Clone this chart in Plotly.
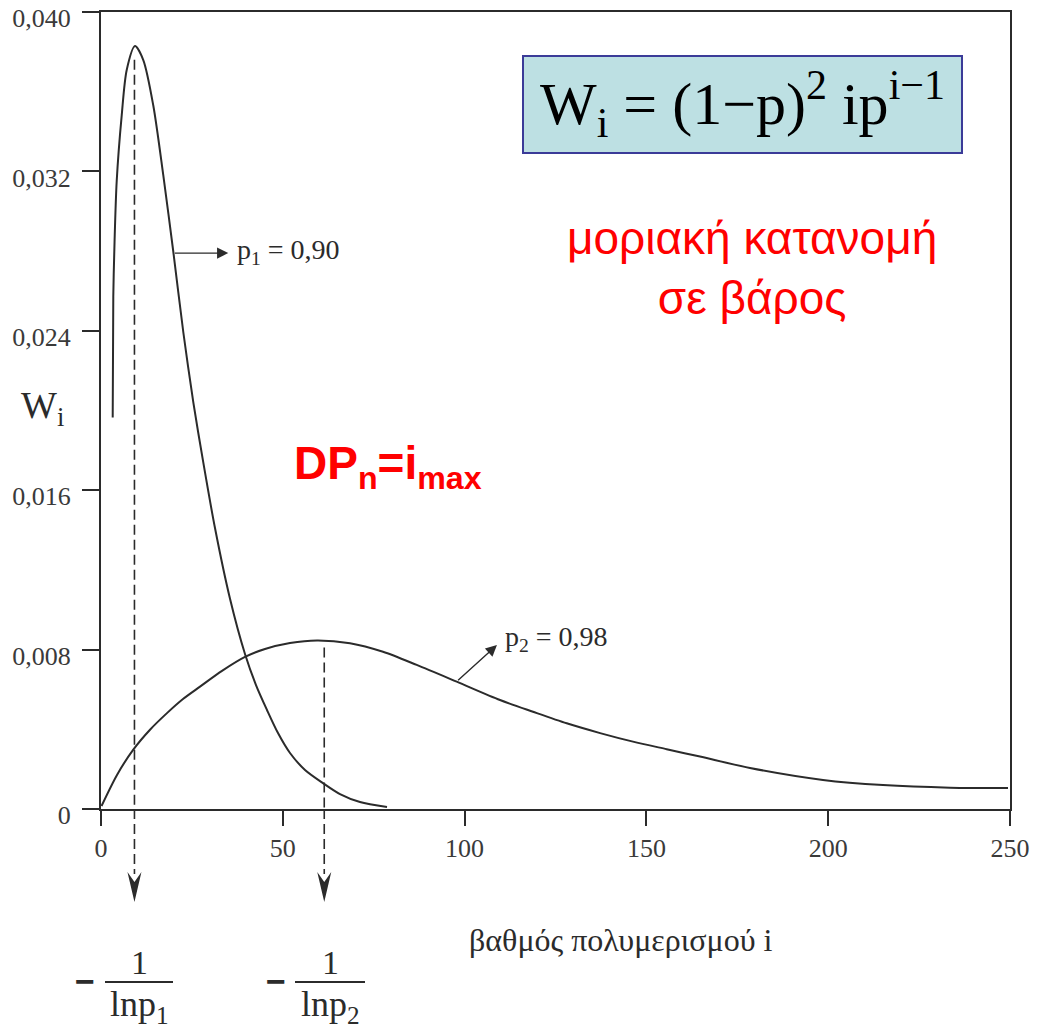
import plotly.graph_objects as go

# Weight-fraction distribution W_i against degree of polymerisation i
i_p1 = [3.22, 3.38, 3.74, 4.32, 5.69, 7.07, 9.35, 11.63, 14.38, 17.13, 19.88,
        22.63, 25.39, 28.14, 31.35, 35.48, 39.60, 42.63, 45.65, 48.68, 51.98,
        56.11, 61.06, 65.73, 71.23, 78.66]
w_p1 = [0.01965, 0.02571, 0.02856, 0.03152, 0.03480, 0.03709, 0.03829, 0.03759,
        0.03531, 0.03181, 0.02798, 0.02394, 0.02041, 0.01738, 0.01410, 0.01055,
        0.00778, 0.00622, 0.00497, 0.00381, 0.00281, 0.00196, 0.00130, 0.00075,
        0.00035, 0.00010]

i_p2 = [0.14, 4.40, 8.88, 13.48, 18.07, 22.55, 27.23, 33.28, 39.60, 45.10, 51.98,
        59.41, 68.48, 77.56, 86.83, 97.83, 109.74, 118.81, 128.08, 137.27, 146.31,
        155.58, 164.74, 178.49, 198.57, 215.07, 233.5, 249.45]
w_p2 = [0.00015, 0.00171, 0.00298, 0.00398, 0.00480, 0.00552, 0.00614, 0.00693,
        0.00763, 0.00803, 0.00833, 0.00846, 0.00832, 0.00789, 0.00723, 0.00639,
        0.00547, 0.00488, 0.00430, 0.00381, 0.00338, 0.00300, 0.00263, 0.00206,
        0.00146, 0.00120, 0.00107, 0.00105]

# positions of the maxima (i = -1/ln p) and where the dashed markers start
i_max = [9.2, 61.4]
w_dash_top = [0.0376, 0.0081]

x_ticks = [0, 50, 100, 150, 200, 250]
y_ticks = [0, 0.008, 0.016, 0.024, 0.032, 0.040]
y_ticktext = ["0", "0,008", "0,016", "0,024", "0,032", "0,040"]

X_RANGE = [0, 250]
Y_RANGE = [0, 0.040]

W, H = 1047, 1029
L, R, T, B = 101, 37, 12, 220
PW, PH = W - L - R, H - T - B

INK = "#2b2b2b"
SERIF = "Liberation Serif"
SANS = "Liberation Sans"


def px(xpix):
    """page pixel column -> paper x"""
    return (xpix - L) / PW


def py(ypix):
    """page pixel row -> paper y"""
    return (H - B - ypix) / PH


def note(text, xpix, ypix, size, family=SERIF, color=INK, xanchor="center"):
    return dict(text=text, x=px(xpix), y=py(ypix), xref="paper", yref="paper",
                xanchor=xanchor, yanchor="middle", showarrow=False,
                font=dict(family=family, size=size, color=color))


fig = go.Figure()
for xs, ys in [(i_p1, w_p1), (i_p2, w_p2)]:
    fig.add_trace(go.Scatter(
        x=xs, y=ys, mode="lines",
        line=dict(color=INK, width=2, shape="spline", smoothing=0.8),
        hoverinfo="skip", showlegend=False,
    ))

shapes = []
for xv, top in zip(i_max, w_dash_top):
    shapes.append(dict(type="line", xref="x", yref="y", x0=xv, x1=xv, y0=top, y1=0,
                       line=dict(color=INK, width=1.6, dash="10px,5px")))
    shapes.append(dict(type="line", xref="x", yref="paper", x0=xv, x1=xv, y0=0, y1=py(874),
                       line=dict(color=INK, width=1.6, dash="10px,5px")))
    shapes.append(dict(type="path", xref="x", yref="paper", xsizemode="pixel",
                       ysizemode="pixel", xanchor=xv, yanchor=py(902),
                       path="M0,0 L-7,30 L0,20 L7,30 Z", fillcolor=INK,
                       line=dict(width=0)))

# formula box
shapes.append(dict(type="rect", xref="paper", yref="paper",
                   x0=px(523), x1=px(962), y0=py(153), y1=py(56),
                   fillcolor="#bde0e3", line=dict(color="#3b3b98", width=2),
                   layer="below"))

# fraction bars under the axis
for a, b in [(105, 173), (295, 365)]:
    shapes.append(dict(type="line", xref="paper", yref="paper",
                       x0=px(a), x1=px(b), y0=py(982), y1=py(982),
                       line=dict(color=INK, width=2)))

annotations = [
    note("W<sub>i</sub> = (1−p)<sup>2</sup> ip<sup>i−1</sup>", 742, 104, 60,
         color="black"),
    note("μοριακή κατανομή<br>σε βάρος", 752, 268, 46, family=SANS, color="#ff0000"),
    note("<b>DP<sub>n</sub>=i<sub>max</sub></b>", 292, 466, 46, family=SANS,
         color="#ff0000", xanchor="left"),
    note("W<sub>i</sub>", 42, 408, 38),
    note("p<sub>1</sub> = 0,90", 235, 251, 28, xanchor="left"),
    note("p<sub>2</sub> = 0,98", 503, 638, 28, xanchor="left"),
    note("βαθμός πολυμερισμού i", 621, 940, 32),
    # label arrows pointing away from the curves
    dict(text="", x=35.0, y=0.0279, ax=19.9, ay=0.0279, axref="x", ayref="y",
         xref="x", yref="y", showarrow=True, arrowhead=2, arrowsize=1.6,
         arrowwidth=1.4, arrowcolor=INK),
    dict(text="", x=108.9, y=0.00823, ax=97.8, ay=0.00639, axref="x", ayref="y",
         xref="x", yref="y", showarrow=True, arrowhead=2, arrowsize=1.6,
         arrowwidth=1.4, arrowcolor=INK),
]

for minus_x, frac_x, sub in [(85, 139, "1"), (276, 330, "2")]:
    annotations += [
        note("<b>−</b>", minus_x, 981, 34, family=SANS),
        note("1", frac_x, 962, 34),
        note("lnp<sub>%s</sub>" % sub, frac_x, 1006, 36),
    ]

axis_common = dict(showline=True, mirror=True, linecolor=INK, linewidth=2,
                   showgrid=False, zeroline=False, ticks="outside", tickcolor=INK,
                   tickwidth=2, automargin=False, ticklabeloverflow="allow",
                   tickfont=dict(family=SERIF, size=26, color="#3a3a3a"))

fig.update_layout(
    width=W, height=H,
    margin=dict(l=L, r=R, t=T, b=B),
    paper_bgcolor="white", plot_bgcolor="white",
    xaxis=dict(range=X_RANGE, tickvals=x_ticks, ticklen=15, **axis_common),
    yaxis=dict(range=Y_RANGE, tickvals=y_ticks, ticktext=y_ticktext, ticklen=17,
               ticklabelstandoff=6, ticklabelshift=6, **axis_common),
    shapes=shapes,
    annotations=annotations,
)

fig.write_html("out.html")
